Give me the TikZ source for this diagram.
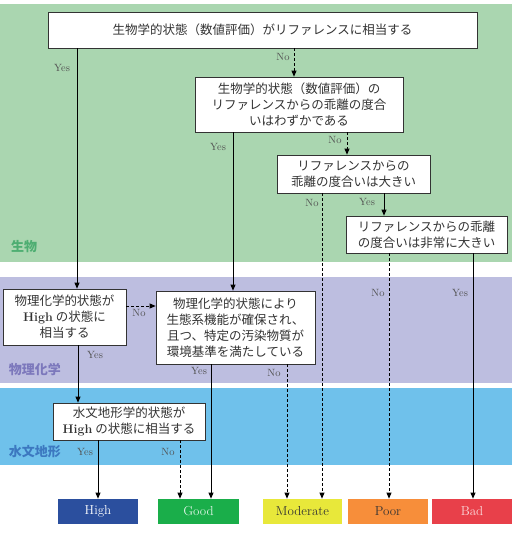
\documentclass[tikz,border=0pt]{standalone}
\usepackage{fontspec}
\newfontfamily\jpfont{Noto Sans CJK JP}
\usetikzlibrary{arrows.meta,positioning}
\definecolor{bandbio}{HTML}{AAD6B0}
\definecolor{bandphys}{HTML}{BDBEE0}
\definecolor{bandhydro}{HTML}{6FC1EB}
\definecolor{txtbio}{HTML}{4EAE72}
\definecolor{txtphys}{HTML}{7C78BC}
\definecolor{txthydro}{HTML}{3C78C0}
\definecolor{clhigh}{HTML}{2B4F9E}
\definecolor{clgood}{HTML}{1AAE4A}
\definecolor{clmod}{HTML}{E8E83A}
\definecolor{clpoor}{HTML}{F78E3A}
\definecolor{clbad}{HTML}{E8404A}
\definecolor{ink}{HTML}{333333}
\newcommand{\hi}{{\normalfont\bfseries High}}
\tikzset{
  every picture/.style={line width=0.75pt},
  qbox/.style={draw=ink,fill=white,align=center,inner sep=2pt,
    font=\jpfont\fontsize{12.5}{16}\selectfont,text=ink},
  result/.style={minimum height=25pt,minimum width=80pt,inner sep=0pt,
    font=\fontsize{13}{15}\selectfont},
  lbl/.style={font=\fontsize{10.5}{12}\selectfont,text=ink!85,inner sep=0pt},
  band/.style={font=\jpfont\bfseries\fontsize{13}{15}\selectfont,inner sep=0pt},
  yesline/.style={draw=black,-{Triangle[length=6pt,width=5pt]}},
  noline/.style={yesline,dash pattern=on 3pt off 2pt},
}
\begin{document}
\begin{tikzpicture}[x=1pt,y=-1pt]
    \useasboundingbox (0,0) rectangle (520,533);
    % background bands
    \fill[bandbio] (0,4) rectangle (512,262);
    \fill[bandphys] (0,277) rectangle (512,383);
    \fill[bandhydro] (0,388) rectangle (512,465);
    \node[band,text=txtbio] (tbio) at (24,247) {生物};
    \node[band,text=txtphys] (tphys) at (35,370) {物理化学};
    \node[band,text=txthydro] (thydro) at (35,452) {水文地形};

    % question boxes
    \node[qbox,minimum width=429pt,minimum height=36pt] (q1) at (262.5,30)
        {生物学的状態（数値評価）がリファレンスに相当する};
    \node[qbox,minimum width=208pt,minimum height=55pt] (q2) at (299,104.5)
        {生物学的状態（数値評価）の\\リファレンスからの乖離の度合\\いはわずかである};
    \node[qbox,minimum width=153pt,minimum height=38pt] (q3) at (353.5,174)
        {リファレンスからの\\乖離の度合いは大きい};
    \node[qbox,minimum width=161pt,minimum height=37pt] (q4) at (426.5,234.5)
        {リファレンスからの乖離\\の度合いは非常に大きい};
    \node[qbox,minimum width=123pt,minimum height=56pt] (q5) at (64.5,317)
        {物理化学的状態が\\\hi\ の状態に\\相当する};
    \node[qbox,minimum width=159pt,minimum height=73pt] (q6) at (235.5,327.5)
        {物理化学的状態により\\生態系機能が確保され、\\且つ、特定の汚染物質が\\環境基準を満たしている};
    \node[qbox,minimum width=152pt,minimum height=37pt] (q7) at (129,421.5)
        {水文地形学的状態が\\\hi\ の状態に相当する};

    % result classes
    \node[result,fill=clhigh,text=white] (rhigh) at (98,511.5) {High};
    \node[result,fill=clgood,text=white!85!clgood,minimum width=81pt] (rgood) at (198.5,511.5) {Good};
    \node[result,fill=clmod,text=ink,minimum width=79pt] (rmod) at (302.5,511.5) {Moderate};
    \node[result,fill=clpoor,text=ink] (rpoor) at (388,511.5) {Poor};
    \node[result,fill=clbad,text=white!80!clbad] (rbad) at (472,511.5) {Bad};

    % connectors
    \draw[yesline] (q1.south -| 77,0) -- (q5.north -| 77,0);
    \draw[noline] (q1.south -| 294,0) -- (q2.north -| 294,0);
    \draw[yesline] (q2.south -| 233,0) -- (q6.north -| 233,0);
    \draw[noline] (q2.south -| 347,0) -- (q3.north -| 347,0);
    \draw[yesline] (q3.south -| 384,0) -- (q4.north -| 384,0);
    \draw[noline] (q3.south -| 322,0) -- (rmod.north -| 322,0);
    \draw[noline] (q4.south -| 389,0) -- (rpoor.north -| 389,0);
    \draw[yesline] (q4.south -| 473,0) -- (rbad.north -| 473,0);
    \draw[noline] (q5.east |- 0,306) -- (q6.west |- 0,306);
    \draw[yesline] (q5.south -| 78,0) -- (q7.north -| 78,0);
    \draw[yesline] (q6.south -| 211,0) -- (rgood.north -| 211,0);
    \draw[noline] (q6.south -| 287,0) -- (rmod.north -| 287,0);
    \draw[yesline] (q7.south -| 98,0) -- (rhigh.north -| 98,0);
    \draw[noline] (q7.south -| 180,0) -- (rgood.north -| 180,0);

    % branch labels
    \node[lbl] (l1y) at (62,68) {Yes};
    \node[lbl] (l1n) at (283,57) {No};
    \node[lbl] (l2y) at (218,147) {Yes};
    \node[lbl] (l2n) at (335,140) {No};
    \node[lbl] (l3n) at (312,203) {No};
    \node[lbl] (l3y) at (367,202) {Yes};
    \node[lbl] (l4n) at (378,293) {No};
    \node[lbl] (l4y) at (460,293) {Yes};
    \node[lbl] (l5n) at (139,313) {No};
    \node[lbl] (l5y) at (95,355) {Yes};
    \node[lbl] (l6y) at (199,371) {Yes};
    \node[lbl] (l6n) at (274,373) {No};
    \node[lbl] (l7y) at (85,452) {Yes};
    \node[lbl] (l7n) at (168,452) {No};
\end{tikzpicture}
\end{document}
